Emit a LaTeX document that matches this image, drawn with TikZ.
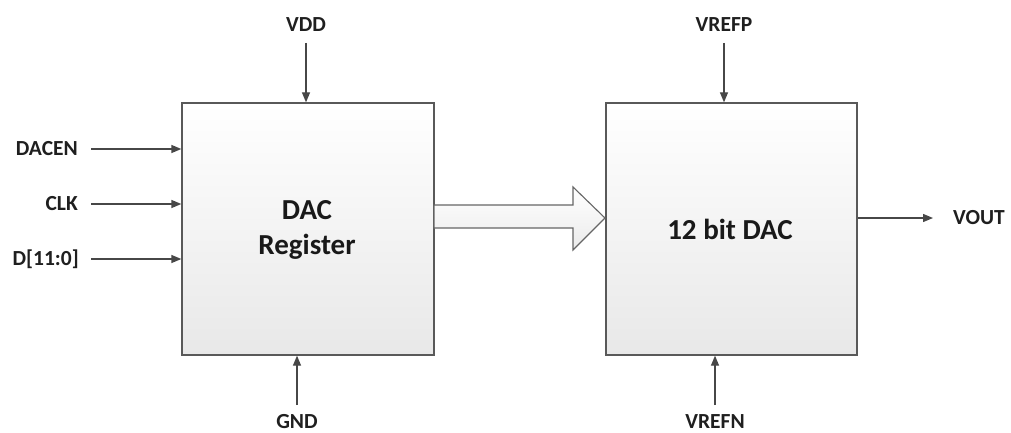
\documentclass[tikz,border=0pt]{standalone}
\usepackage{fontspec}
\setmainfont{Carlito}
\usetikzlibrary{arrows.meta}
\begin{document}
\begin{tikzpicture}[x=1pt,y=-1pt,
 blk/.style={draw=black!65, line width=1.3pt, top color=white, bottom color=black!9, minimum width=252pt, minimum height=252pt, inner sep=0pt},
 sig/.style={draw=black!72, line width=1.3pt, -{Triangle[length=10pt,width=8pt]}},
 lbl/.style={font=\fontsize{21.5}{25}\selectfont\bfseries, text=black!88, inner sep=0pt},
 big/.style={font=\fontsize{29}{35}\selectfont\bfseries, align=center, text=black!90}]
\useasboundingbox (0,0) rectangle (1011,433);
% blocks
\node[blk] (reg) at (308,229) {};
\node[big] (regtxt) at (307,229.5) {DAC\\Register};
\node[blk, minimum width=251pt] (dac) at (731.5,229) {};
\node[big] (dactxt) at (730,229) {12 bit DAC};
% bus arrow
\path[draw=black!60, line width=1.1pt, top color=white, bottom color=black!8]
  (434,205) -- (573,205) -- (573,187) -- (605,218) -- (573,250) -- (573,228) -- (434,228) -- cycle;
% left inputs
\node[lbl, anchor=east] (dacen) at (78,149) {DACEN};
\node[lbl, anchor=east] (clk) at (78,204) {CLK};
\node[lbl, anchor=east] (dd) at (79,259) {D[11:0]};
\coordinate (s1) at (91,149);
\coordinate (s2) at (91,204);
\coordinate (s3) at (91,259);
\draw[sig] (s1) -- (reg.west |- s1);
\draw[sig] (s2) -- (reg.west |- s2);
\draw[sig] (s3) -- (reg.west |- s3);
% supplies
\node[lbl] (vdd) at (306,25) {VDD};
\coordinate (vddc) at (306,43);
\draw[sig] (vddc) -- (reg.north -| vddc);
\node[lbl, anchor=base] (gnd) at (297,428) {GND};
\coordinate (gndc) at (297,405);
\draw[sig] (gndc) -- (reg.south -| gndc);
\node[lbl] (vrefp) at (724,25) {VREFP};
\coordinate (vrefpc) at (724,43);
\draw[sig] (vrefpc) -- (dac.north -| vrefpc);
\node[lbl, anchor=base] (vrefn) at (715,428) {VREFN};
\coordinate (vrefnc) at (715,405);
\draw[sig] (vrefnc) -- (dac.south -| vrefnc);
% output
\node[lbl, anchor=west] (vout) at (953,218) {VOUT};
\coordinate (voutc) at (933,218);
\draw[sig] (dac.east |- voutc) -- (voutc);
\end{tikzpicture}
\end{document}
